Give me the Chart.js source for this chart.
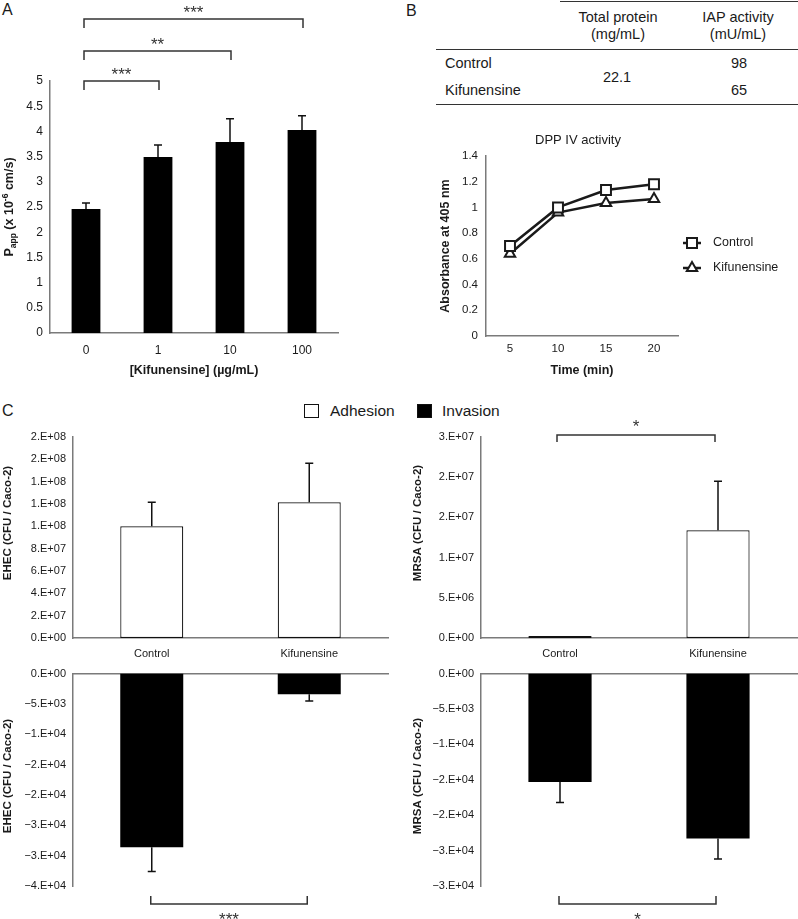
<!DOCTYPE html>
<html>
<head>
<meta charset="utf-8">
<script src="https://cdn.jsdelivr.net/npm/chart.js@4.4.1/dist/chart.umd.min.js"></script>
<style>
  body { margin: 0; background: #fff; font-family: 'Liberation Sans', Arial, sans-serif; color: #1a1a1a; }
  #page { position: relative; width: 798px; height: 919px; overflow: hidden; }
  canvas, .txt, .rule, .box { position: absolute; }
  .txt { line-height: 1; white-space: nowrap; }
  .letter { font-size: 16px; line-height: 16px; }
  .rule { height: 0; border-top: 1.5px solid #333; }
  .box { width: 15px; height: 14px; box-sizing: border-box; border: 1.5px solid #111; }
</style>
</head>
<body>
<div id="page">
  <div class="txt letter" style="left:2px;top:2px">A</div>
  <div class="txt letter" style="left:406px;top:3px">B</div>
  <div class="txt letter" style="left:2px;top:403px">C</div>

  <canvas id="chartA" width="400" height="385" style="left:0;top:0"></canvas>
  <canvas id="chartB" width="398" height="250" style="left:400px;top:130px"></canvas>

  <div class="box" style="left:304px;top:404px;background:#fff"></div>
  <div class="txt" style="left:330px;top:411px;font-size:15.5px;transform:translateY(-50%)">Adhesion</div>
  <div class="box" style="left:417px;top:404px;background:#000"></div>
  <div class="txt" style="left:442px;top:411px;font-size:15.5px;transform:translateY(-50%)">Invasion</div>

  <canvas id="ehecAdh" width="400" height="245" style="left:0;top:420px"></canvas>
  <canvas id="mrsaAdh" width="398" height="245" style="left:400px;top:420px"></canvas>
  <canvas id="ehecInv" width="400" height="259" style="left:0;top:660px"></canvas>
  <canvas id="mrsaInv" width="398" height="259" style="left:400px;top:660px"></canvas>
</div>
<script>
// Panel A: permeability vs kifunensine dose
const doseLabels = ['0', '1', '10', '100'];
const pappMeans = [2.46, 3.49, 3.79, 4.03];
const pappSd = [0.12, 0.24, 0.46, 0.28];
const pappTicks = ['0', '0.5', '1', '1.5', '2', '2.5', '3', '3.5', '4', '4.5', '5'];

// Panel B: table
const tableRows = ['Control', 'Kifunensine'];
const totalProtein = '22.1';
const iapActivity = ['98', '65'];

// Panel B: DPP IV activity
const timeLabels = ['5', '10', '15', '20'];
const dppControl = [0.70, 1.00, 1.135, 1.18];
const dppKifunensine = [0.64, 0.96, 1.035, 1.065];
const dppTicks = ['0', '0.2', '0.4', '0.6', '0.8', '1', '1.2', '1.4'];

// Panel C: adhesion (top) and invasion (bottom)
const groups = ['Control', 'Kifunensine'];
const ehecAdhesion = [1.0e8, 1.215e8];
const ehecAdhesionSd = [2.15e7, 3.5e7];
const ehecInvasion = [-28600, -3400];
const ehecInvasionSd = [4000, 1100];
const mrsaAdhesion = [2.5e5, 1.34e7];
const mrsaAdhesionSd = [0, 6.1e6];
const mrsaInvasion = [-15300, -23300];
const mrsaInvasionSd = [2900, 2900];
const ehecAdhTicks = ['0.E+00', '2.E+07', '4.E+07', '6.E+07', '8.E+07', '1.E+08', '1.E+08', '1.E+08', '2.E+08', '2.E+08'];
const ehecInvTicks = ['\u22124.E+04', '\u22123.E+04', '\u22123.E+04', '\u22122.E+04', '\u22122.E+04', '\u22121.E+04', '\u22125.E+03', '0.E+00'];
const mrsaAdhTicks = ['0.E+00', '5.E+06', '1.E+07', '2.E+07', '2.E+07', '3.E+07'];
const mrsaInvTicks = ['\u22123.E+04', '\u22123.E+04', '\u22122.E+04', '\u22122.E+04', '\u22121.E+04', '\u22125.E+03', '0.E+00'];

const FONT = "'Liberation Sans', Arial, sans-serif";
Chart.defaults.font.family = FONT;
Chart.defaults.color = '#1a1a1a';
const axisBorder = { color: '#7a7a7a', width: 1.5 };
const noGrid = { display: false, drawTicks: false };
const page = document.getElementById('page');

// small helpers for the drawn extras
function addText(text, x, y, size, align) {
  const d = document.createElement('div');
  d.className = 'txt';
  d.textContent = text;
  d.style.left = x + 'px';
  d.style.top = y + 'px';
  d.style.fontSize = size + 'px';
  d.style.transform = align === 'left' ? 'translateY(-50%)' : 'translate(-50%,-50%)';
  page.appendChild(d);
}
function addRule(x, y, w) {
  const d = document.createElement('div');
  d.className = 'rule';
  d.style.left = x + 'px';
  d.style.top = y + 'px';
  d.style.width = w + 'px';
  page.appendChild(d);
}
function vTitle(ctx, parts, x, y) {
  ctx.save();
  ctx.translate(x, y);
  ctx.rotate(-Math.PI / 2);
  ctx.fillStyle = '#1a1a1a';
  ctx.textBaseline = 'middle';
  ctx.textAlign = 'left';
  let w = 0;
  parts.forEach(p => { ctx.font = `bold ${p[1]}px ${FONT}`; w += ctx.measureText(p[0]).width; });
  let cx = -w / 2;
  parts.forEach(p => {
    ctx.font = `bold ${p[1]}px ${FONT}`;
    ctx.fillText(p[0], cx, p[2] || 0);
    cx += ctx.measureText(p[0]).width;
  });
  ctx.restore();
}
function hTitle(ctx, text, x, y, size, bold) {
  ctx.save();
  ctx.font = `${bold ? 'bold ' : ''}${size}px ${FONT}`;
  ctx.fillStyle = '#1a1a1a';
  ctx.textAlign = 'center';
  ctx.textBaseline = 'middle';
  ctx.fillText(text, x, y);
  ctx.restore();
}
function errorBars(chart, means, sds) {
  const ctx = chart.ctx, y = chart.scales.y;
  ctx.save();
  ctx.strokeStyle = '#111';
  ctx.lineWidth = 1.5;
  chart.getDatasetMeta(0).data.forEach((bar, i) => {
    if (!sds[i]) return;
    const end = y.getPixelForValue(means[i] + Math.sign(means[i]) * sds[i]);
    ctx.beginPath();
    ctx.moveTo(bar.x, bar.y);
    ctx.lineTo(bar.x, end);
    ctx.moveTo(bar.x - 4, end);
    ctx.lineTo(bar.x + 4, end);
    ctx.stroke();
  });
  ctx.restore();
}
// bracket between two x positions; tick > 0 points down, < 0 points up
function bracket(ctx, x1, x2, y, tick, stars, starY) {
  ctx.save();
  ctx.strokeStyle = '#333';
  ctx.lineWidth = 1.5;
  ctx.beginPath();
  ctx.moveTo(x1, y + tick);
  ctx.lineTo(x1, y);
  ctx.lineTo(x2, y);
  ctx.lineTo(x2, y + tick);
  ctx.stroke();
  ctx.font = `17px ${FONT}`;
  ctx.fillStyle = '#333';
  ctx.textAlign = 'center';
  ctx.textBaseline = 'alphabetic';
  ctx.fillText(stars, (x1 + x2) / 2, starY);
  ctx.restore();
}
function overlay(draw) {
  return { id: 'overlay', afterDatasetsDraw(chart) { draw(chart, chart.ctx); } };
}

// Panel A (bar chart with error bars)
const pappSig = [{ to: 1, lift: 0, label: '***' }, { to: 2, lift: 30, label: '**' }, { to: 3, lift: 62, label: '***' }];
const ctxA = document.getElementById('chartA').getContext('2d');
const chartA = new Chart(ctxA, {
  type: 'bar',
  data: {
    labels: doseLabels,
    datasets: [{ data: pappMeans, backgroundColor: '#000', barPercentage: 0.5, categoryPercentage: 0.8 }]
  },
  options: {
    responsive: false,
    animation: false,
    layout: { padding: { left: 0, right: 62, top: 81, bottom: 0 } },
    plugins: { legend: { display: false }, tooltip: { enabled: false } },
    scales: {
      x: {
        grid: noGrid, border: axisBorder,
        ticks: { font: { size: 12 }, padding: 10 },
        afterFit: s => { s.height = 52; }
      },
      y: {
        min: 0, max: 5,
        grid: noGrid, border: axisBorder,
        ticks: { stepSize: 0.5, autoSkip: false, font: { size: 12 }, padding: 7, callback: (v, i) => pappTicks[i] ?? v },
        afterFit: s => { s.width = 50; }
      }
    }
  },
  plugins: [overlay((chart, ctx) => {
    errorBars(chart, pappMeans, pappSd);
    const bars = chart.getDatasetMeta(0).data;
    const top = chart.chartArea.top;
    pappSig.forEach(s => {
      const y = top - s.lift;
      bracket(ctx, bars[0].x - 2, bars[s.to].x + 1, y, 9, s.label, y - 1);
    });
    const a = chart.chartArea;
    vTitle(ctx, [['P', 12.5], ['app', 8.5, 4], [' (x 10', 12.5], ['-6', 8.5, -4], [' cm/s)', 12.5]], 10, (a.top + a.bottom) / 2);
    hTitle(ctx, '[Kifunensine] (\u00b5g/mL)', (a.left + a.right) / 2, 371, 12.5, true);
  })]
});

// Panel B table
addRule(560, 1, 238);
addRule(436, 49, 362);
addRule(436, 104, 362);
addText('Total protein', 618, 17, 14.5);
addText('(mg/mL)', 618, 34, 14.5);
addText('IAP activity', 738, 17, 14.5);
addText('(mU/mL)', 738, 34, 14.5);
addText(totalProtein, 617, 77, 14.5);
tableRows.forEach((r, i) => {
  const y = 63 + i * 27;
  addText(r, 445, y, 14.5, 'left');
  addText(iapActivity[i], 739, y, 14.5);
});

// Panel B line chart (DPP IV activity)
function drawMarker(ctx, style, x, y) {
  ctx.beginPath();
  if (style === 'rect') {
    ctx.rect(x - 5, y - 5, 10, 10);
  } else {
    ctx.moveTo(x, y - 6);
    ctx.lineTo(x + 5.2, y + 3);
    ctx.lineTo(x - 5.2, y + 3);
    ctx.closePath();
  }
  ctx.fill();
  ctx.stroke();
}
const ctxB = document.getElementById('chartB').getContext('2d');
const chartB = new Chart(ctxB, {
  type: 'line',
  data: {
    labels: timeLabels,
    datasets: [
      {
        label: 'Control', data: dppControl, borderColor: '#1a1a1a', borderWidth: 2.5, tension: 0,
        pointStyle: 'rect', pointRadius: 7, pointBackgroundColor: '#fff', pointBorderColor: '#1a1a1a', pointBorderWidth: 2
      },
      {
        label: 'Kifunensine', data: dppKifunensine, borderColor: '#1a1a1a', borderWidth: 2.5, tension: 0,
        pointStyle: 'triangle', pointRadius: 6, pointBackgroundColor: '#fff', pointBorderColor: '#1a1a1a', pointBorderWidth: 2
      }
    ]
  },
  options: {
    responsive: false,
    animation: false,
    layout: { padding: { left: 0, right: 120, top: 26, bottom: 0 } },
    plugins: { legend: { display: false }, tooltip: { enabled: false } },
    scales: {
      x: {
        offset: true,
        grid: noGrid, border: axisBorder,
        ticks: { font: { size: 11.5 }, padding: 6 },
        afterFit: s => { s.height = 44; }
      },
      y: {
        min: 0, max: 1.4,
        grid: noGrid, border: axisBorder,
        ticks: { stepSize: 0.2, autoSkip: false, font: { size: 11.5 }, padding: 8, callback: (v, i) => dppTicks[i] ?? v },
        afterFit: s => { s.width = 86; }
      }
    }
  },
  plugins: [overlay((chart, ctx) => {
    const a = chart.chartArea;
    hTitle(ctx, 'DPP IV activity', 178, 10, 13, false);
    vTitle(ctx, [['Absorbance at 405 nm', 12.5]], 46, (a.top + a.bottom) / 2);
    hTitle(ctx, 'Time (min)', (a.left + a.right) / 2, 241, 12.5, true);
    // legend
    ctx.save();
    ctx.strokeStyle = '#1a1a1a';
    ctx.fillStyle = '#fff';
    chart.data.datasets.forEach((ds, i) => {
      const y = 113 + i * 25;
      ctx.lineWidth = 2.5;
      ctx.beginPath();
      ctx.moveTo(283, y);
      ctx.lineTo(301, y);
      ctx.stroke();
      ctx.lineWidth = 2;
      drawMarker(ctx, ds.pointStyle, 292, y);
      ctx.font = `12.5px ${FONT}`;
      ctx.fillStyle = '#1a1a1a';
      ctx.textBaseline = 'middle';
      ctx.fillText(ds.label, 313, y);
      ctx.fillStyle = '#fff';
    });
    ctx.restore();
  })]
});

// Panel C bar charts
function panelC(id, o) {
  const ctx = document.getElementById(id).getContext('2d');
  return new Chart(ctx, {
    type: 'bar',
    data: {
      labels: groups,
      datasets: [{
        data: o.values, backgroundColor: o.fill, borderColor: '#111', borderWidth: o.fill === '#fff' ? 1.2 : 0,
        borderSkipped: false, barPercentage: 0.5, categoryPercentage: 0.8
      }]
    },
    options: {
      responsive: false,
      animation: false,
      layout: { padding: { left: 0, right: o.padRight, top: o.padTop, bottom: o.padBottom } },
      plugins: { legend: { display: false }, tooltip: { enabled: false } },
      scales: {
        x: {
          position: o.below ? 'top' : 'bottom',
          grid: noGrid, border: axisBorder,
          ticks: { display: !o.below, font: { size: 11 }, padding: 9 },
          afterFit: s => { s.height = o.xHeight; }
        },
        y: {
          min: o.min, max: o.max,
          grid: noGrid, border: axisBorder,
          ticks: { stepSize: o.step, autoSkip: false, font: { size: 11 }, padding: 7, callback: (v, i) => o.ticks[i] ?? v },
          afterFit: s => { s.width = o.yWidth; }
        }
      }
    },
    plugins: [overlay((chart, c) => {
      errorBars(chart, o.values, o.sds);
      vTitle(c, [[o.title, 11.5]], o.titleX, o.titleY);
      if (o.sig) {
        const bars = chart.getDatasetMeta(0).data;
        const a = chart.chartArea;
        if (o.below) {
          const y = a.bottom + 18;
          bracket(c, bars[0].x - 1, bars[1].x - 2, y, -8, o.sig, y + 21);
        } else {
          const y = a.top - 2;
          bracket(c, bars[0].x - 3, bars[1].x - 3, y, 7, o.sig, y - 3);
        }
      }
    })]
  });
}

panelC('ehecAdh', {
  values: ehecAdhesion, sds: ehecAdhesionSd, fill: '#fff', ticks: ehecAdhTicks,
  min: 0, max: 1.8e8, step: 2e7, padRight: 12, padTop: 17, padBottom: 0, xHeight: 27, yWidth: 73,
  title: 'EHEC (CFU / Caco-2)', titleX: 8, titleY: 103
});
panelC('mrsaAdh', {
  values: mrsaAdhesion, sds: mrsaAdhesionSd, fill: '#fff', ticks: mrsaAdhTicks,
  min: 0, max: 2.5e7, step: 5e6, padRight: 1, padTop: 17, padBottom: 0, xHeight: 27, yWidth: 81,
  title: 'MRSA (CFU / Caco-2)', titleX: 18, titleY: 103, sig: '*'
});
panelC('ehecInv', {
  values: ehecInvasion, sds: ehecInvasionSd, fill: '#000', ticks: ehecInvTicks, below: true,
  min: -3.5e4, max: 0, step: 5e3, padRight: 12, padTop: 8, padBottom: 33, xHeight: 0, yWidth: 73,
  title: 'EHEC (CFU / Caco-2)', titleX: 8, titleY: 116, sig: '***'
});
panelC('mrsaInv', {
  values: mrsaInvasion, sds: mrsaInvasionSd, fill: '#000', ticks: mrsaInvTicks, below: true,
  min: -3e4, max: 0, step: 5e3, padRight: 1, padTop: 8, padBottom: 33, xHeight: 0, yWidth: 81,
  title: 'MRSA (CFU / Caco-2)', titleX: 18, titleY: 116, sig: '*'
});
</script>
</body>
</html>
